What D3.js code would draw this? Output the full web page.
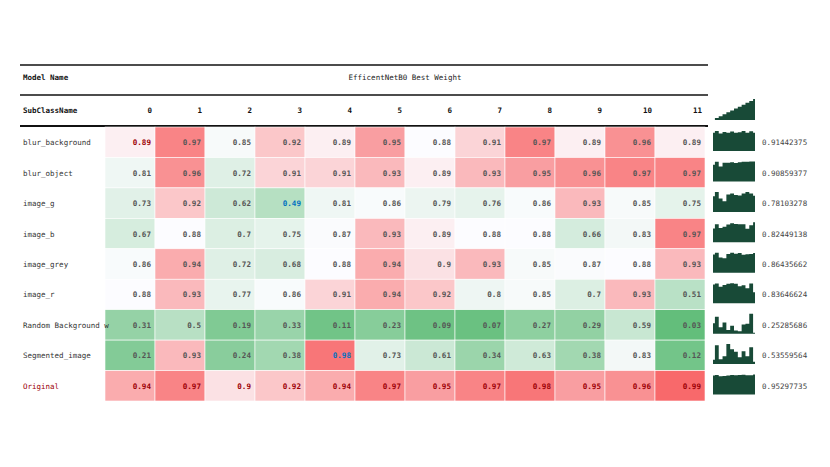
<!DOCTYPE html>
<html>
<head>
<meta charset="utf-8">
<script src="https://cdn.jsdelivr.net/npm/d3@7"></script>
<style>
  body { margin: 0; background: #fff; }
  text { font-family: "DejaVu Sans Mono", "Liberation Mono", monospace; }
</style>
</head>
<body>
<div id="chart"></div>
<script>
// table data
const title = "EfficentNetB0 Best Weight";
const columns = ["0", "1", "2", "3", "4", "5", "6", "7", "8", "9", "10", "11"];
const rowNames = ["blur_background", "blur_object", "image_g", "image_b", "image_grey",
    "image_r", "Random Background w", "Segmented_image", "Original"];
const blurBackground = [0.89, 0.97, 0.85, 0.92, 0.89, 0.95, 0.88, 0.91, 0.97, 0.89, 0.96, 0.89];
const blurObject = [0.81, 0.96, 0.72, 0.91, 0.91, 0.93, 0.89, 0.93, 0.95, 0.96, 0.97, 0.97];
const imageG = [0.73, 0.92, 0.62, 0.49, 0.81, 0.86, 0.79, 0.76, 0.86, 0.93, 0.85, 0.75];
const imageB = [0.67, 0.88, 0.7, 0.75, 0.87, 0.93, 0.89, 0.88, 0.88, 0.66, 0.83, 0.97];
const imageGrey = [0.86, 0.94, 0.72, 0.68, 0.88, 0.94, 0.9, 0.93, 0.85, 0.87, 0.88, 0.93];
const imageR = [0.88, 0.93, 0.77, 0.86, 0.91, 0.94, 0.92, 0.8, 0.85, 0.7, 0.93, 0.51];
const randomBg = [0.31, 0.5, 0.19, 0.33, 0.11, 0.23, 0.09, 0.07, 0.27, 0.29, 0.59, 0.03];
const segmented = [0.21, 0.93, 0.24, 0.38, 0.98, 0.73, 0.61, 0.34, 0.63, 0.38, 0.83, 0.12];
const original = [0.94, 0.97, 0.9, 0.92, 0.94, 0.97, 0.95, 0.97, 0.98, 0.95, 0.96, 0.99];
const means = ["0.91442375", "0.90859377", "0.78103278", "0.82449138", "0.86435662",
    "0.83646624", "0.25285686", "0.53559564", "0.95297735"];
// highlighted cells [row, col, colour]
const highlights = [[0, 0, "#9c0006"], [2, 3, "#0070c0"], [7, 4, "#0070c0"]];

const rows = [blurBackground, blurObject, imageG, imageB, imageGrey, imageR, randomBg, segmented, original];

const width = 830, height = 467;
const left = 20, right = 708;

const svg = d3.select("#chart").append("svg")
    .attr("width", width)
    .attr("height", height);

const x = d3.scaleBand().domain(columns).range([105, 705]);
const y = d3.scaleBand().domain(rowNames).range([127, 401]);

const all = rows.flat();
const color = d3.scaleLinear()
    .domain([d3.min(all), d3.median(all), d3.max(all)])
    .range(["#63be7b", "#fcfcff", "#f8696b"]);

// header rules
[[65, 1.6], [95, 1.4], [126, 1.8]].forEach(([yy, w]) => {
    svg.append("line")
        .attr("x1", left).attr("x2", right)
        .attr("y1", yy).attr("y2", yy)
        .attr("stroke", "#111").attr("stroke-width", w);
});

svg.append("text").attr("x", 23).attr("y", 80)
    .attr("font-size", 7.5).attr("font-weight", "bold").attr("fill", "#111")
    .text("Model Name");
svg.append("text").attr("x", 405).attr("y", 80)
    .attr("text-anchor", "middle")
    .attr("font-size", 7.5).attr("fill", "#222")
    .text(title);
svg.append("text").attr("x", 23).attr("y", 113)
    .attr("font-size", 7.5).attr("font-weight", "bold").attr("fill", "#111")
    .text("SubClassName");
svg.selectAll(".colhead").data(columns).join("text")
    .attr("x", d => x(d) + x.bandwidth() - 3)
    .attr("y", 113)
    .attr("text-anchor", "end")
    .attr("font-size", 7.5).attr("font-weight", "bold").attr("fill", "#111")
    .text(d => d);

// cells
const rowG = svg.selectAll(".row").data(rows).join("g")
    .attr("transform", (d, i) => `translate(0,${y(rowNames[i])})`);

rowG.selectAll("rect").data(d => d).join("rect")
    .attr("x", (d, j) => x(columns[j]))
    .attr("y", 0)
    .attr("width", x.bandwidth())
    .attr("height", y.bandwidth())
    .attr("fill", d => color(d))
    .attr("stroke", "#fff").attr("stroke-width", 0.6);

rowG.each(function (vals, i) {
    d3.select(this).selectAll("text.val").data(vals).join("text")
        .attr("class", "val")
        .attr("x", (d, j) => x(columns[j]) + x.bandwidth() - 4)
        .attr("y", y.bandwidth() / 2 + 3)
        .attr("text-anchor", "end")
        .attr("font-size", 7.6).attr("font-weight", "bold")
        .attr("fill", (d, j) => {
            const h = highlights.find(k => k[0] === i && k[1] === j);
            if (h) return h[2];
            return i === rows.length - 1 ? "#9c0006" : "#555";
        })
        .text(d => String(d));
});

// row labels
svg.selectAll(".rowlabel").data(rowNames).join("text")
    .attr("x", 23)
    .attr("y", d => y(d) + y.bandwidth() / 2 + 3)
    .attr("font-size", 7.5)
    .attr("fill", (d, i) => i === rowNames.length - 1 ? "#9c0006" : "#333")
    .text(d => d);

// sparklines
const sx = d3.scaleLinear().domain([0, columns.length - 1]).range([713, 755]);
function spark(vals, top, h) {
    const sy = d3.scaleLinear().domain([0, d3.max(vals)]).range([top + h, top]);
    const area = d3.area()
        .x((d, j) => sx(j))
        .y0(top + h)
        .y1(d => sy(d))
        .curve(d3.curveStep);
    svg.append("path").datum(vals)
        .attr("d", area)
        .attr("fill", "#184a37");
}
spark(columns.map(Number), 99, 21);
rows.forEach((vals, i) => spark(vals, y(rowNames[i]) + 4, 20));

// mean values
svg.selectAll(".mean").data(means).join("text")
    .attr("x", 762)
    .attr("y", (d, i) => y(rowNames[i]) + y.bandwidth() / 2 + 3)
    .attr("font-size", 7.5)
    .attr("fill", "#444")
    .text(d => d);
</script>
</body>
</html>
